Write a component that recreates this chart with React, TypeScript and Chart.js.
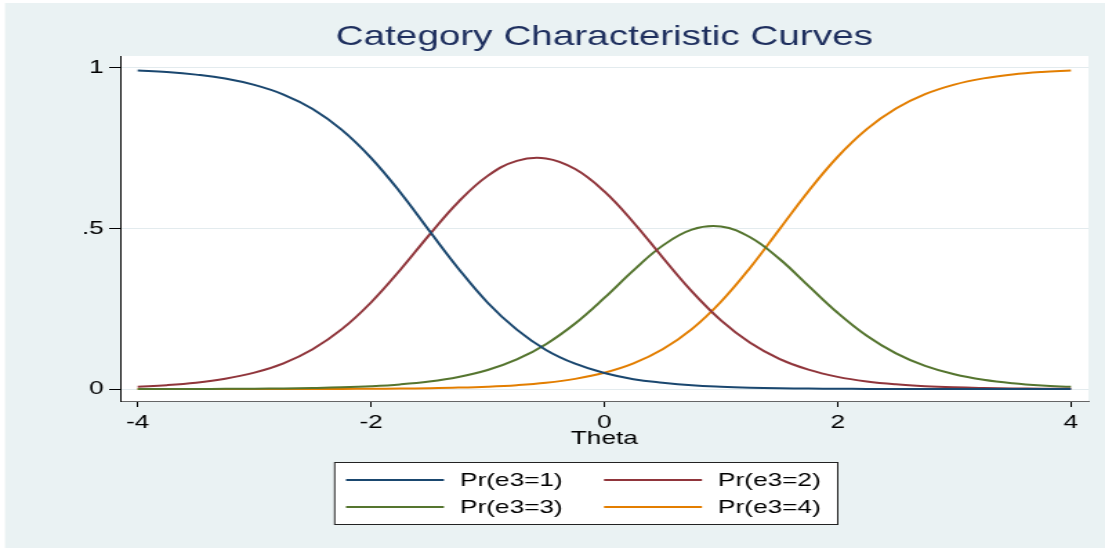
import React, { useEffect, useRef } from 'react';
import { Chart, registerables } from 'chart.js';

Chart.register(...registerables);

// ---- data ----
const theta = [
  -4, -3.75, -3.5, -3.25, -3, -2.75, -2.5, -2.25, -2, -1.75, -1.5, -1.25, -1, -0.75, -0.5, -0.25,
  0, 0.25, 0.5, 0.75, 1, 1.25, 1.5, 1.75, 2, 2.25, 2.5, 2.75, 3, 3.25, 3.5, 3.75, 4,
];
const prCat1 = [
  0.992, 0.987, 0.979, 0.967, 0.947, 0.917, 0.872, 0.807, 0.72, 0.613, 0.493, 0.375, 0.269, 0.185, 0.122, 0.079,
  0.05, 0.031, 0.02, 0.012, 0.0075, 0.0046, 0.0028, 0.0018, 0.0011, 0.0007, 0.0004, 0.0003, 0.0002, 0.0001, 0.0001, 0, 0,
];
const prCat2 = [
  0.0077, 0.0124, 0.02, 0.0322, 0.0512, 0.0805, 0.1243, 0.1866, 0.2697, 0.3708, 0.4802, 0.5831, 0.6638, 0.7106, 0.718, 0.685,
  0.6154, 0.5189, 0.4099, 0.3044, 0.2142, 0.1445, 0.0944, 0.0605, 0.0381, 0.0238, 0.0148, 0.0091, 0.0056, 0.0035, 0.0021, 0.0014, 0.0008,
];
const prCat3 = [
  0.0002, 0.0003, 0.0005, 0.0008, 0.0013, 0.0021, 0.0035, 0.0056, 0.0091, 0.0147, 0.0236, 0.0377, 0.0595, 0.0924, 0.1399, 0.2042,
  0.2837, 0.3697, 0.4466, 0.4966, 0.5062, 0.4729, 0.4058, 0.3215, 0.2377, 0.1661, 0.1113, 0.0724, 0.0462, 0.029, 0.0181, 0.0112, 0.007,
];
const prCat4 = [
  0, 0, 0.0001, 0.0001, 0.0002, 0.0003, 0.0004, 0.0007, 0.0011, 0.0018, 0.0029, 0.0047, 0.0076, 0.0123, 0.0198, 0.0319,
  0.0508, 0.08, 0.1239, 0.1869, 0.2721, 0.378, 0.497, 0.6163, 0.7231, 0.8094, 0.8735, 0.9182, 0.948, 0.9674, 0.9797, 0.9874, 0.9922,
];
const seriesLabels = ['Pr(e3=1)', 'Pr(e3=2)', 'Pr(e3=3)', 'Pr(e3=4)'];
const xTicks = [-4, -2, 0, 2, 4];
const yTicks = [0, 0.5, 1];
const yTickLabels = ['0', '.5', '1'];
const chartTitle = 'Category Characteristic Curves';
const xAxisTitle = 'Theta';

// ---- styles ----
const palette = ['#1a476f', '#90353b', '#55752f', '#e37e00'];
const FONT = '"Liberation Sans", Arial, Helvetica, sans-serif';
const W = 800;
const H = 548;
const STRETCH = 1105 / W;

const backgroundPlugin = {
  id: 'stataBackground',
  beforeDraw(chart: any) {
    const { ctx, chartArea } = chart;
    ctx.save();
    ctx.fillStyle = '#ffffff';
    ctx.fillRect(0, 0, chart.width, chart.height);
    ctx.fillStyle = '#eaf2f3';
    ctx.fillRect(3.6, 3, chart.width, chart.height);
    ctx.fillStyle = '#ffffff';
    ctx.fillRect(chartArea.left, chartArea.top, chartArea.right - chartArea.left, chartArea.bottom - chartArea.top);
    ctx.restore();
  },
};

const boxedLegendPlugin = {
  id: 'boxedLegend',
  afterDraw(chart: any) {
    const { ctx } = chart;
    const boxL = 241.8;
    const boxR = 606;
    const boxT = 462;
    const boxB = 524;
    const rows = [480, 507];
    const cols = [
      { l0: 250.5, l1: 321.4, tx: 333 },
      { l0: 437.3, l1: 508.2, tx: 519.8 },
    ];
    ctx.save();
    ctx.fillStyle = '#ffffff';
    ctx.fillRect(boxL, boxT, boxR - boxL, boxB - boxT);
    ctx.strokeStyle = '#222222';
    ctx.lineWidth = 1;
    ctx.strokeRect(boxL + 0.5, boxT + 0.5, boxR - boxL, boxB - boxT);
    ctx.font = `19px ${FONT}`;
    ctx.textBaseline = 'middle';
    ctx.textAlign = 'left';
    chart.data.datasets.forEach((ds: any, i: number) => {
      const r = rows[Math.floor(i / 2)];
      const c = cols[i % 2];
      ctx.strokeStyle = ds.borderColor;
      ctx.lineWidth = 2;
      ctx.beginPath();
      ctx.moveTo(c.l0, r);
      ctx.lineTo(c.l1, r);
      ctx.stroke();
      ctx.fillStyle = '#000000';
      ctx.fillText(ds.label, c.tx, r + 1);
    });
    ctx.restore();
  },
};

export default function App() {
  const canvasRef = useRef<HTMLCanvasElement | null>(null);

  useEffect(() => {
    if (!canvasRef.current) return;
    Chart.defaults.font.family = FONT;
    const series = [prCat1, prCat2, prCat3, prCat4];
    const chart = new Chart(canvasRef.current, {
      type: 'line',
      data: {
        datasets: series.map((vals, i) => ({
          label: seriesLabels[i],
          data: theta.map((t, j) => ({ x: t, y: vals[j] })),
          borderColor: palette[i],
          backgroundColor: palette[i],
          borderWidth: 2,
          pointRadius: 0,
          fill: false,
          tension: 0.4,
        })),
      },
      options: {
        animation: false,
        responsive: false,
        devicePixelRatio: 1,
        layout: { padding: { left: 0, right: 12, top: 0, bottom: 97 } },
        plugins: {
          legend: { display: false },
          tooltip: { enabled: false },
          title: {
            display: true,
            text: chartTitle,
            fullSize: false,
            color: '#1e2f5e',
            font: { size: 28, weight: 'normal', family: FONT },
            padding: { top: 20, bottom: 2.4 },
          },
        },
        scales: {
          x: {
            type: 'linear',
            min: -4.15,
            max: 4.15,
            afterBuildTicks: (s: any) => {
              s.ticks = xTicks.map((v) => ({ value: v }));
            },
            afterFit: (s: any) => {
              s.height = 50;
            },
            ticks: {
              color: '#000000',
              font: { size: 19, family: FONT },
              padding: 4,
              autoSkip: false,
              maxRotation: 0,
            },
            grid: {
              drawOnChartArea: false,
              drawTicks: true,
              tickLength: 6,
              tickColor: '#000000',
            },
            border: { display: true, color: '#666666', width: 1 },
            title: {
              display: true,
              text: xAxisTitle,
              color: '#000000',
              font: { size: 19, family: FONT },
              padding: { top: 0, bottom: 1 },
            },
          },
          y: {
            type: 'linear',
            min: -0.037,
            max: 1.037,
            afterBuildTicks: (s: any) => {
              s.ticks = yTicks.map((v) => ({ value: v }));
            },
            afterFit: (s: any) => {
              s.width = 87;
            },
            ticks: {
              color: '#000000',
              font: { size: 19, family: FONT },
              padding: 4,
              callback: (_v: any, idx: number) => yTickLabels[idx],
            },
            grid: {
              color: '#e3ebee',
              lineWidth: 1,
              drawTicks: true,
              tickLength: 8,
              tickColor: '#000000',
            },
            border: { display: true, color: '#000000', width: 1 },
          },
        },
      },
      plugins: [backgroundPlugin, boxedLegendPlugin],
    } as any);
    return () => chart.destroy();
  }, []);

  return (
    <div
      style={{
        position: 'fixed',
        left: 0,
        top: 0,
        width: W,
        height: H,
        transform: `scaleX(${STRETCH})`,
        transformOrigin: '0 0',
      }}
    >
      <canvas ref={canvasRef} width={W} height={H} style={{ display: 'block' }} />
    </div>
  );
}
